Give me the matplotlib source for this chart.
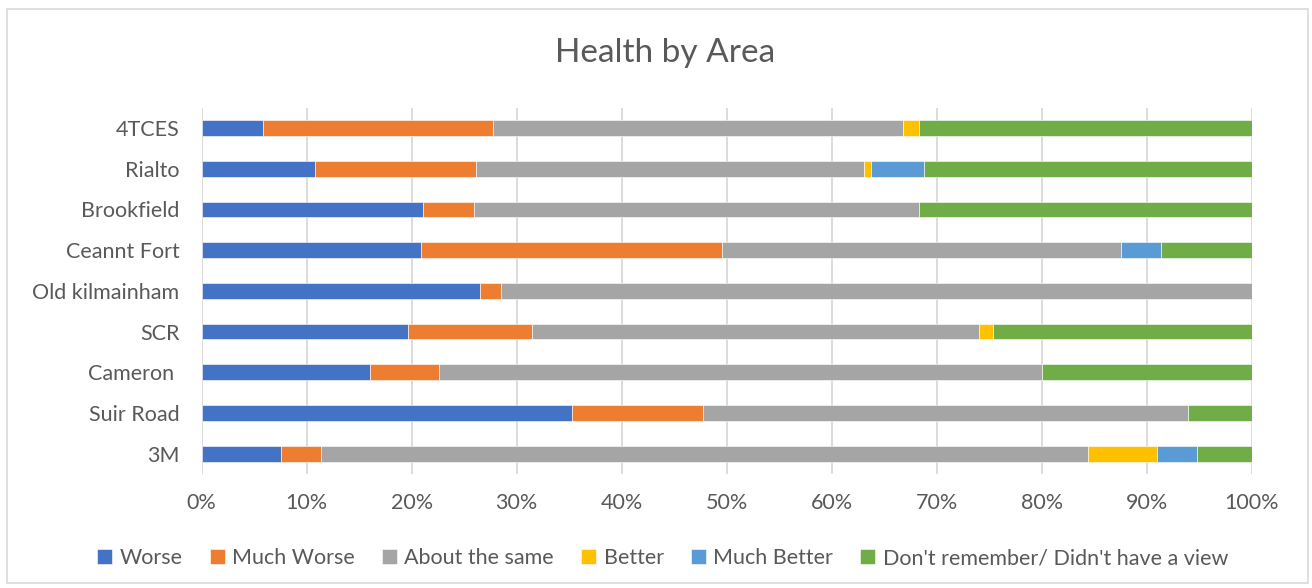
import numpy as np
import matplotlib.pyplot as plt
from matplotlib.patches import Rectangle

# ── Data (percent of respondents per area) ──────────────────────────────────
AREAS = ["3M", "Suir Road", "Cameron ", "SCR", "Old kilmainham",
         "Ceannt Fort", "Brookfield", "Rialto", "4TCES"]

WORSE        = [7.6, 35.3, 16.0, 19.7, 26.5, 20.85, 21.1, 10.8, 5.85]
MUCH_WORSE   = [3.8, 12.4, 6.6, 11.8, 2.0, 28.65, 4.8, 15.3, 21.85]
ABOUT_SAME   = [73.0, 46.2, 57.4, 42.5, 71.5, 38.0, 42.4, 36.96, 39.1]
BETTER       = [6.6, 0.0, 0.0, 1.3, 0.0, 0.0, 0.0, 0.64, 1.5]
MUCH_BETTER  = [3.8, 0.0, 0.0, 0.0, 0.0, 3.8, 0.0, 5.1, 0.0]
NO_VIEW      = [5.2, 6.1, 20.0, 24.7, 0.0, 8.7, 31.7, 31.2, 31.7]

SERIES = [
    ("Worse",                            WORSE,       "#4472C4"),
    ("Much Worse",                       MUCH_WORSE,  "#ED7D31"),
    ("About the same",                   ABOUT_SAME,  "#A5A5A5"),
    ("Better",                           BETTER,      "#FFC000"),
    ("Much Better",                      MUCH_BETTER, "#5B9BD5"),
    ("Don't remember/ Didn't have a view", NO_VIEW,   "#70AD47"),
]

TEXT_COLOR = "#595959"
GRID_COLOR = "#D9D9D9"

plt.rcParams["font.family"] = ["Lato", "DejaVu Sans"]

fig = plt.figure(figsize=(13.12, 5.88), dpi=100)
ax = fig.add_axes([0.1536, 0.1939, 0.8007, 0.6229])

# normalise each row to 100% (100% stacked bar)
vals = np.array([s[1] for s in SERIES], dtype=float)
vals = vals / vals.sum(axis=0) * 100.0

y = np.arange(len(AREAS))
left = np.zeros(len(AREAS))
for (name, _, color), row in zip(SERIES, vals):
    ax.barh(y, row, left=left, height=0.39, color=color, label=name,
            edgecolor="white", linewidth=0.4, zorder=3)
    left += row

ax.set_xlim(0, 100)
ax.set_ylim(-0.5, len(AREAS) - 0.5)
ax.set_xticks(np.arange(0, 101, 10))
ax.set_xticklabels([f"{v}%" for v in range(0, 101, 10)])
ax.set_yticks(y)
ax.set_yticklabels(AREAS)

ax.grid(axis="x", color=GRID_COLOR, linewidth=1.3, zorder=0)
ax.set_axisbelow(True)
for sp in ax.spines.values():
    sp.set_visible(False)
ax.tick_params(axis="both", length=0, labelsize=15.5, labelcolor=TEXT_COLOR)
ax.tick_params(axis="x", pad=14)
ax.tick_params(axis="y", pad=16)

fig.text(0.507, 0.91, "Health by Area", ha="center", va="center",
         fontsize=24, color=TEXT_COLOR)

handles, labels = ax.get_legend_handles_labels()
fig.legend(handles, labels, loc="center", bbox_to_anchor=(0.505, 0.051),
           ncol=6, frameon=False, fontsize=15.5, labelcolor=TEXT_COLOR,
           handlelength=0.7, handleheight=0.7, handletextpad=0.35,
           columnspacing=1.25)

# light chart-area border
fig.patches.append(Rectangle((7 / 1312, 1 - 583 / 588), 1301 / 1312, 574 / 588,
                             transform=fig.transFigure, fill=False,
                             edgecolor=GRID_COLOR, linewidth=1.2))

fig.savefig("out.png", dpi=100)
